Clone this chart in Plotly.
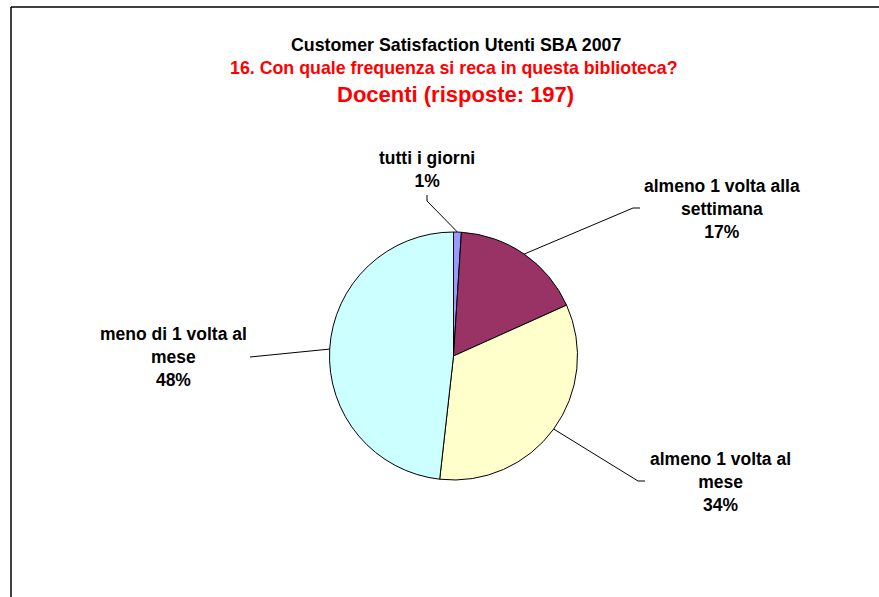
import math
import plotly.graph_objects as go

W, H = 879, 597

categories = ["tutti i giorni", "almeno 1 volta alla<br>settimana", "almeno 1 volta al<br>mese", "meno di 1 volta al<br>mese"]
values = [2, 34, 66, 95]
colors = ["#9999FF", "#993366", "#FFFFCC", "#CCFFFF"]

title_1 = "Customer Satisfaction Utenti SBA 2007"
title_2 = "16. Con quale frequenza si reca in questa biblioteca?"
title_3 = "Docenti (risposte: 197)"

# layout (pixel) settings
cx, cy, R = 453.5, 356.0, 124.0
# label text centre, elbow point, elbow tail end (pixels)
label_pos = [(427, 170), (722, 209), (720, 482), (173, 357)]
elbow = [(427, 201), (633, 208), (638, 481), (250, 357)]
tail = [(427, 195), (640, 208), (645, 481), (250, 357)]

def px(x):
    return x / W

def py(y):
    return 1 - y / H

FONT = "Arial, Liberation Sans, sans-serif"

fig = go.Figure(go.Pie(
    labels=categories,
    values=values,
    marker=dict(colors=colors, line=dict(color="black", width=1)),
    sort=False,
    direction="clockwise",
    rotation=0,
    textinfo="none",
    hoverinfo="label+percent",
    showlegend=False,
    domain=dict(x=[px(cx - R), px(cx + R)], y=[py(cy + R), py(cy - R)]),
))

total = sum(values)
shapes = []
annotations = []
cum = 0
for i, v in enumerate(values):
    mid = (cum + v / 2) / total * 2 * math.pi
    cum += v
    ex = cx + R * math.sin(mid)
    ey = cy - R * math.cos(mid)
    bx, by = elbow[i]
    tx, ty = tail[i]
    shapes.append(dict(type="line", xref="paper", yref="paper",
                       x0=px(ex), y0=py(ey), x1=px(bx), y1=py(by),
                       line=dict(color="black", width=1)))
    if (tx, ty) != (bx, by):
        shapes.append(dict(type="line", xref="paper", yref="paper",
                           x0=px(bx), y0=py(by), x1=px(tx), y1=py(ty),
                           line=dict(color="black", width=1)))
    pct = round(v / total * 100 + 1e-9)
    lx, ly = label_pos[i]
    annotations.append(dict(
        text=f"<b>{categories[i]}<br>{pct}%</b>",
        x=px(lx), y=py(ly), xref="paper", yref="paper",
        xanchor="center", yanchor="middle", showarrow=False, align="center",
        font=dict(family=FONT, size=17.5, color="black")))

# frame
shapes.append(dict(type="line", xref="paper", yref="paper", x0=px(11), y0=py(7), x1=1.0, y1=py(7),
                   line=dict(color="black", width=1.5)))
shapes.append(dict(type="line", xref="paper", yref="paper", x0=px(11), y0=py(7), x1=px(11), y1=0.0,
                   line=dict(color="black", width=1.5)))

annotations += [
    dict(text=f"<b>{title_1}</b>", x=px(456), y=py(45), xref="paper", yref="paper",
         showarrow=False, xanchor="center", yanchor="middle",
         font=dict(family=FONT, size=17.8, color="black")),
    dict(text=f"<b>{title_2}</b>", x=px(454), y=py(68), xref="paper", yref="paper",
         showarrow=False, xanchor="center", yanchor="middle",
         font=dict(family=FONT, size=17.8, color="#FF0000")),
    dict(text=f"<b>{title_3}</b>", x=px(455), y=py(95), xref="paper", yref="paper",
         showarrow=False, xanchor="center", yanchor="middle",
         font=dict(family=FONT, size=22, color="#FF0000")),
]

fig.update_layout(
    width=W, height=H,
    margin=dict(l=0, r=0, t=0, b=0),
    paper_bgcolor="white", plot_bgcolor="white",
    shapes=shapes, annotations=annotations,
)

fig.write_html("out.html", config={"displayModeBar": False},
               post_script="document.body.style.margin='0';document.body.style.overflow='hidden';")
